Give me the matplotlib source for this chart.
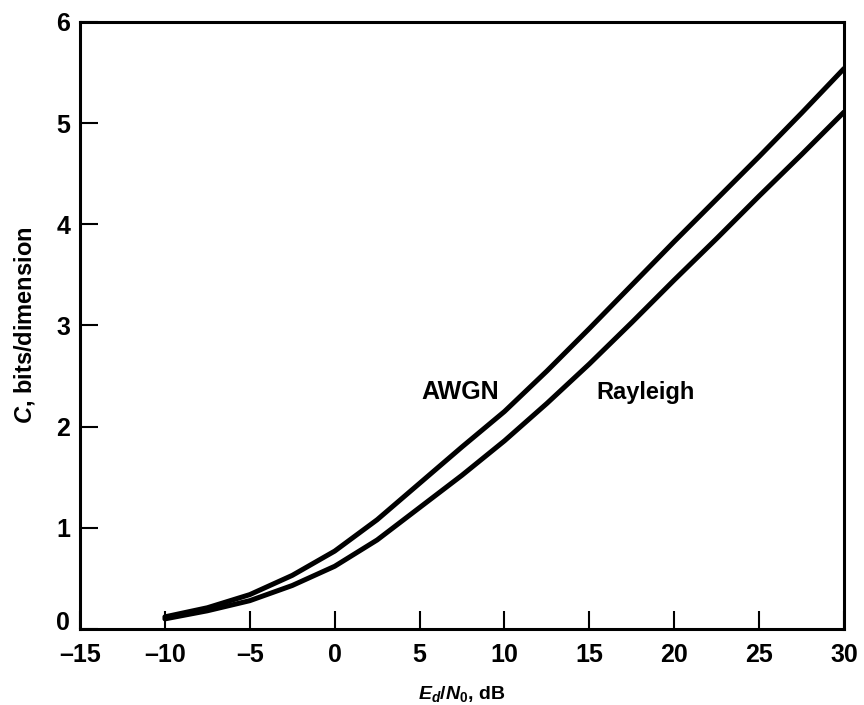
import numpy as np
import matplotlib.pyplot as plt
import matplotlib.transforms as mtransforms

plt.rcParams['font.family'] = ['Liberation Sans', 'DejaVu Sans']
plt.rcParams['mathtext.fontset'] = 'custom'
plt.rcParams['mathtext.rm'] = 'Liberation Sans:bold'
plt.rcParams['mathtext.it'] = 'Liberation Sans:bold:italic'
plt.rcParams['mathtext.bf'] = 'Liberation Sans:bold'

# values
snr_db = [-10, -7.5, -5, -2.5, 0, 2.5, 5, 7.5, 10, 12.5, 15, 17.5, 20, 22.5, 25, 27.5, 30]
awgn = [0.12, 0.21, 0.34, 0.53, 0.77, 1.08, 1.44, 1.80, 2.15, 2.55, 2.97, 3.40, 3.83, 4.25, 4.67, 5.10, 5.54]
rayleigh = [0.10, 0.18, 0.28, 0.43, 0.62, 0.88, 1.20, 1.52, 1.86, 2.23, 2.62, 3.03, 3.45, 3.86, 4.28, 4.69, 5.11]

xticks = [-15, -10, -5, 0, 5, 10, 15, 20, 25, 30]
yticks = [0, 1, 2, 3, 4, 5, 6]

fig = plt.figure(figsize=(8.64, 7.05), dpi=100)
ax = fig.add_axes([0.0926, 0.1078, 0.8843, 0.861])

ax.plot(snr_db, awgn, color='black', lw=3.6, solid_capstyle='round')
ax.plot(snr_db, rayleigh, color='black', lw=3.6, solid_capstyle='round')

ax.text(7.4, 2.34, 'AWGN', fontsize=18, fontweight='bold', ha='center', va='center')
ax.text(18.3, 2.34, 'Rayleigh', fontsize=17, fontweight='bold', ha='center', va='center')

ax.set_xlim(-15, 30)
ax.set_ylim(0, 6)
ax.set_xticks(xticks)
ax.set_xticklabels(['\u2013' + str(-t) if t < 0 else str(t) for t in xticks])
ax.set_yticks(yticks)
ax.tick_params(direction='in', length=13, width=1.5, labelsize=18)
ax.tick_params(axis='x', pad=10)
ax.tick_params(axis='y', pad=7)
for lab in ax.get_xticklabels() + ax.get_yticklabels():
    lab.set_fontweight('bold')
for sp in ax.spines.values():
    sp.set_linewidth(2.2)

# the "0" on the y axis sits a little above the axis line
zero = ax.get_yticklabels()[0]
zero.set_transform(zero.get_transform() + mtransforms.ScaledTranslation(0, 6 / 72, fig.dpi_scale_trans))

ax.set_xlabel(r'$E_d/N_0$, dB', fontsize=14, fontweight='bold', labelpad=12)
ax.set_ylabel(r'$C$, bits/dimension', fontsize=17, fontweight='bold', labelpad=14)

fig.savefig('out.png', dpi=100)
